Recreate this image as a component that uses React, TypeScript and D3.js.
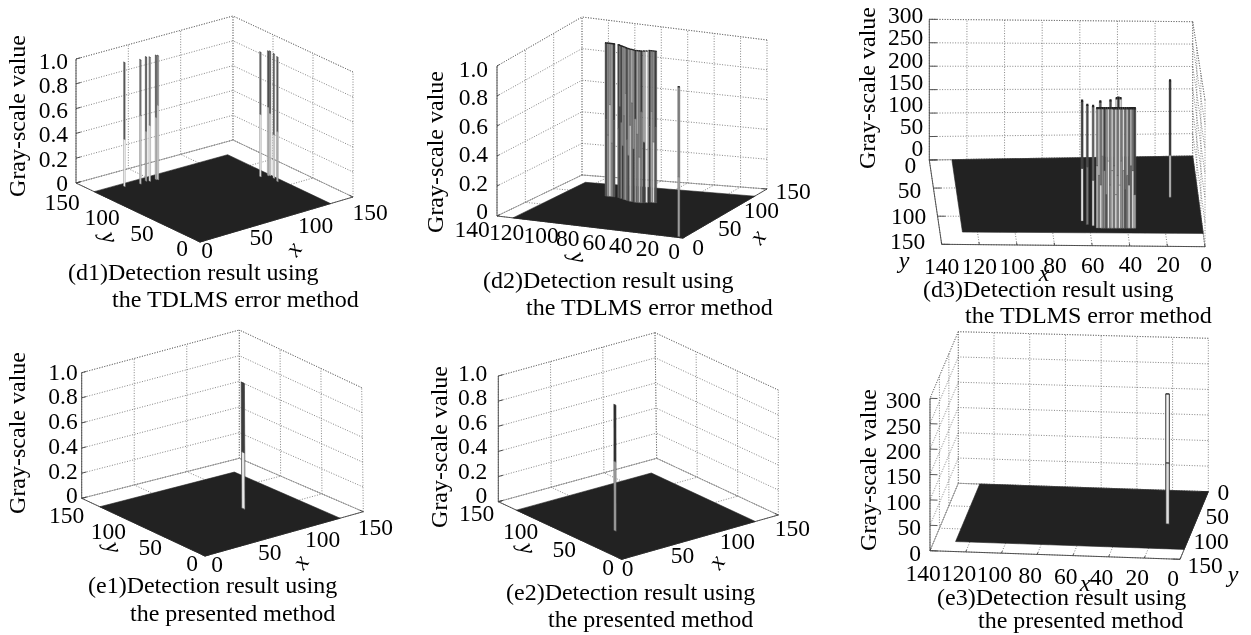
import React from 'react';
import * as d3 from 'd3';

// axis ticks
const ticks150 = [0, 50, 100, 150];
const ticks140 = [0, 20, 40, 60, 80, 100, 120, 140];
const ticksUnit = [0, 0.2, 0.4, 0.6, 0.8, 1];
const ticksGray = [0, 50, 100, 150, 200, 250, 300];
const unitLabels = ['0', '0.2', '0.4', '0.6', '0.8', '1.0'];

// the floor of each surface: the image is 128 x 128
const surfaceSize = 128;

// (d1) spikes
const d1X = [25, 38, 45, 47, 53, 54, 120, 126, 127, 126, 124];
const d1Y = [123, 120, 122, 120, 120, 119, 77, 75, 74, 68, 61];
const d1Z = [1, 1, 1, 1, 1, 1, 1, 1, 1, 1, 1];
const d1Split = [0.38, 0.55, 0.4, 0.45, 0.5, 0.6, 0.5, 0.55, 0.5, 0.35, 0.4];
const d1Upper = [0.25, 0.35, 0.2, 0.4, 0.2, 0.45, 0.3, 0.15, 0.2, 0.3, 0.25];
const d1Lower = [0.95, 0.75, 0.6, 0.9, 0.7, 0.8, 0.9, 0.7, 0.8, 0.85, 0.65];

// (d2) wall of columns plus the single spike near the origin
const d2X = [92, 92, 92, 92, 92, 91, 90, 89, 88, 87, 86, 85, 84, 83.5, 83, 82.5, 82, 82, 82, 82, 83, 84, 86, 86, 86, 86, 2];
const d2Y = [97, 95.5, 94, 92.5, 91, 87, 85.5, 84, 82.5, 81, 79.5, 78, 76.5, 75, 73.5, 72, 70.5, 69, 67.5, 66, 64.5, 63, 61.5, 60, 58.5, 57, 4];
const d2Z = [1, 1, 1, 1, 1, 1, 1, 1, 1, 1, 1, 1, 1, 1, 1, 1, 1, 1, 1, 1, 1, 1, 1, 1, 1, 1, 1];
const d2Split = [0.5, 0.4, 0.6, 0.35, 0.5, 0.45, 0.6, 0.5, 0.35, 0.55, 0.7, 0.4, 0.3, 0.5, 0.65, 0.35, 0.55, 0.45, 0.3, 0.6, 0.4, 0.35, 0.5, 0.6, 0.4, 0.5, 0.4];
const d2Upper = [0.2, 0.5, 0.55, 0.6, 0.15, 0.15, 0.45, 0.15, 0.5, 0.6, 0.45, 0.15, 0.55, 0.45, 0.7, 0.5, 0.15, 0.6, 0.45, 0.15, 0.65, 0.95, 0.12, 0.45, 0.5, 0.15, 0.45];
const d2Lower = [0.25, 0.55, 0.85, 0.5, 0.25, 0.25, 0.15, 0.5, 0.12, 0.45, 0.6, 0.35, 0.2, 0.8, 0.45, 0.15, 0.55, 0.4, 0.7, 0.4, 0.15, 0.9, 0.15, 0.6, 0.85, 0.25, 0.6];

// (d3) columns behind the band, the band itself, then the lone spike
const d3X = [63.5, 61, 58, 54, 48.5, 45, 44, 43, 56, 55, 54, 53, 52, 51, 50, 49, 48, 47, 46, 45, 44, 43, 42, 41, 40, 39, 38, 37, 36, 15];
const d3Y = [108, 114, 116, 112, 110, 106, 105, 106, 120, 120, 120, 120, 120, 120, 120, 120, 120, 120, 120, 120, 120, 120, 120, 120, 120, 120, 120, 120, 120, 68];
const d3Z = [252, 250, 250, 255, 255, 255, 255, 255, 250, 250, 250, 250, 250, 250, 250, 250, 250, 250, 250, 250, 250, 250, 250, 250, 250, 250, 250, 250, 250, 250];
const d3Split = [110, 120, 95, 150, 150, 150, 150, 150, 130, 110, 90, 150, 120, 70, 140, 90, 120, 130, 70, 110, 90, 140, 120, 80, 110, 90, 130, 120, 70, 90];
const d3Upper = [0.15, 0.2, 0.3, 0.3, 0.2, 0.8, 0.1, 0.8, 0.45, 0.75, 0.4, 0.7, 0.15, 0.5, 0.8, 0.45, 0.85, 0.4, 0.85, 0.4, 0.85, 0.4, 0.85, 0.35, 0.75, 0.3, 0.7, 0.4, 0.15, 0.12];
const d3Lower = [0.95, 0.4, 0.85, 0.25, 0.2, 0.6, 0.2, 0.6, 0.75, 0.45, 0.9, 0.5, 0.5, 0.25, 0.9, 0.5, 0.85, 0.45, 0.9, 0.45, 0.9, 0.5, 0.6, 0.25, 0.45, 0.9, 0.35, 0.9, 0.6, 0.7];

// (e1), (e2), (e3) one target each
const e1X = [84];
const e1Y = [61];
const e1Z = [1];
const e1Split = [0.45];
const e1Upper = [0.15];
const e1Lower = [0.9];

const e2X = [32.5];
const e2Y = [49.5];
const e2Z = [1];
const e2Split = [0.55];
const e2Upper = [0.05];
const e2Lower = [0.6];

const e3X = [15];
const e3Y = [74];
const e3Z = [255];
const e3Split = [120];
const e3Upper = [0.95];
const e3Lower = [0.85];

const SERIF = '"Liberation Serif", serif';
const gray = d3.scaleLinear<string>().domain([0, 1]).range(['#1c1c1c', '#ffffff']);
const polygon = d3.line().curve(d3.curveLinearClosed);

const panels = [
  {
    id: 'd1',
    xTicks: ticks150, yTicks: ticks150, zTicks: ticksUnit, zLabels: unitLabels,
    // corners, floor then top: [x side][y side]
    f: [[[200, 242], [76, 183]], [[353, 197], [233, 140]]],
    t: [[[200, 118], [76, 59]], [[353, 72], [233, 16]]],
    xWall: 150, yWall: 150, xAxisAt: 0, yAxisAt: 0, zAxisAt: [0, 150],
    xLab: [[7, 8], [17, 15]], yLab: [[-18, 6], [-14, 19]], zLab: [[-8, 0], [-8, 2]],
    spread: 'y', half: 1.05, capWidth: 0.5, edge: '#777', edgeWidth: 0.4,
    X: d1X, Y: d1Y, Z: d1Z, split: d1Split, upper: d1Upper, lower: d1Lower,
    xName: [295, 250, -55], yName: [108, 238, 70], gray: [18, 116],
    caption: ['(d1)Detection result using', 'the TDLMS error method'],
    cap1: [68, 280], cap2: [112, 307],
  },
  {
    id: 'd2',
    xTicks: ticks150, yTicks: ticks140, zTicks: ticksUnit, zLabels: unitLabels,
    f: [[[683, 238], [497, 216]], [[767, 189], [582, 175]]],
    t: [[[683, 88], [497, 66]], [[767, 40], [582, 17]]],
    xWall: 150, yWall: 140, xAxisAt: 0, yAxisAt: 0, zAxisAt: [0, 140],
    xLab: [[15, 9], [26, 2]], yLab: [[-9, 13], [-9, 13]], zLab: [[-9, -5], [-9, 3]],
    // the 140 and 120 labels are pushed left in the original
    yNudge: [0, 0, 0, 0, 0, 0, -8, -16],
    spread: 'y', half: 0.8, capWidth: 1.3, edge: '#555', edgeWidth: 0.4,
    X: d2X, Y: d2Y, Z: d2Z, split: d2Split, upper: d2Upper, lower: d2Lower,
    xName: [759, 238, -55], yName: [577, 258, 70], gray: [436, 152],
    caption: ['(d2)Detection result using', 'the TDLMS error method'],
    cap1: [483, 288], cap2: [526, 315],
  },
  {
    id: 'd3',
    xTicks: ticks140, yTicks: ticks150, zTicks: ticksGray, zLabels: ticksGray.map(String),
    f: [[[1192.7, 156], [1205, 246.7]], [[929.3, 160], [941.7, 244.3]]],
    t: [[[1192.7, 21.7], [1205, 100]], [[929.3, 19.3], [941.7, 100]]],
    xWall: 0, yWall: 0, xAxisAt: 150, yAxisAt: 140, zAxisAt: [140, 0],
    xLab: [[1, 17], [0, 22]], yLab: [[-19, 5], [-34, -3]], zLab: [[-6, -12], [-6, -4]],
    spread: 'x', half: 0.55, capWidth: 2.4, edge: '#555', edgeWidth: 0.4,
    X: d3X, Y: d3Y, Z: d3Z, split: d3Split, upper: d3Upper, lower: d3Lower,
    xName: [1044, 275, 0], yName: [904, 262, 0], gray: [868, 88],
    caption: ['(d3)Detection result using', 'the TDLMS error method'],
    cap1: [923, 297], cap2: [965, 323],
  },
  {
    id: 'e1',
    xTicks: ticks150, yTicks: ticks150, zTicks: ticksUnit, zLabels: unitLabels,
    f: [[[205, 556], [81.7, 498.3]], [[363.3, 511.7], [239.3, 458.3]]],
    t: [[[205, 430], [81.7, 372.7]], [[361.7, 387.7], [239.3, 330]]],
    xWall: 150, yWall: 150, xAxisAt: 0, yAxisAt: 0, zAxisAt: [0, 150],
    xLab: [[12, 8], [12, 15]], yLab: [[-13, 7], [-15, 17]], zLab: [[-4, -3], [-4, -1]],
    spread: 'y', half: 2, capWidth: 0.7, edge: '#444', edgeWidth: 0.7,
    X: e1X, Y: e1Y, Z: e1Z, split: e1Split, upper: e1Upper, lower: e1Lower,
    xName: [302, 563, -55], yName: [112, 548, 70], gray: [18, 433],
    caption: ['(e1)Detection result using', 'the presented method'],
    cap1: [88, 593], cap2: [130, 621],
  },
  {
    id: 'e2',
    xTicks: ticks150, yTicks: ticks150, zTicks: ticksUnit, zLabels: unitLabels,
    f: [[[621.7, 559.3], [498.3, 501.7]], [[778.3, 515], [656.7, 458.3]]],
    t: [[[621.7, 433], [498.3, 376]], [[778.3, 390], [655, 332.7]]],
    xWall: 150, yWall: 150, xAxisAt: 0, yAxisAt: 0, zAxisAt: [0, 150],
    xLab: [[6, 9], [14, 13]], yLab: [[-13.5, 7.4], [-21.6, 11.6]], zLab: [[-11, -6.7], [-11, -3]],
    spread: 'y', half: 1.4, capWidth: 0.6, edge: '#555', edgeWidth: 0.5,
    X: e2X, Y: e2Y, Z: e2Z, split: e2Split, upper: e2Upper, lower: e2Lower,
    xName: [718, 563, -55], yName: [526, 549, 70], gray: [440, 447],
    caption: ['(e2)Detection result using', 'the presented method'],
    cap1: [506, 600], cap2: [548, 627],
  },
  {
    id: 'e3',
    xTicks: ticks140, yTicks: ticks150, zTicks: ticksGray, zLabels: ticksGray.map(String),
    f: [[[1208.3, 491.7], [1180, 559.3]], [[958.3, 483.3], [930, 550.7]]],
    t: [[[1208.3, 338.3], [1180, 406]], [[958.3, 331.7], [930, 398.3]]],
    xWall: 140, yWall: 0, xAxisAt: 150, yAxisAt: 0, zAxisAt: [140, 150],
    xLab: [[-7, 19], [-7, 22]], yLab: [[15, 0], [25, 6]], zLab: [[-9, 2], [-9, 2]],
    spread: 'x', half: 1, capWidth: 0.9, edge: '#222', edgeWidth: 0.9,
    X: e3X, Y: e3Y, Z: e3Z, split: e3Split, upper: e3Upper, lower: e3Lower,
    xName: [1085, 585, 0], yName: [1233, 576, 0], gray: [869, 470],
    caption: ['(e3)Detection result using', 'the presented method'],
    cap1: [937, 605], cap2: [978, 628],
  },
];

type Panel = (typeof panels)[number];

function Surface({ p }: { p: Panel }) {
  const xMax = d3.max(p.xTicks) as number;
  const yMax = d3.max(p.yTicks) as number;
  const zMax = d3.max(p.zTicks) as number;
  const u = d3.scaleLinear().domain([0, xMax]).range([0, 1]);
  const v = d3.scaleLinear().domain([0, yMax]).range([0, 1]);
  const w = d3.scaleLinear().domain([0, zMax]).range([0, 1]);

  // trilinear between the 8 corners of the axes box, this also keeps the slight perspective of d3/e3
  const project = (x: number, y: number, z: number): [number, number] => {
    const at = (i: number) => {
      const plane = (c: number[][][]) => {
        const near = d3.interpolateNumber(c[0][0][i], c[1][0][i])(u(x));
        const far = d3.interpolateNumber(c[0][1][i], c[1][1][i])(u(x));
        return d3.interpolateNumber(near, far)(v(y));
      };
      return d3.interpolateNumber(plane(p.f), plane(p.t))(w(z));
    };
    return [at(0), at(1)];
  };

  const gridLines: [number, number, number][][] = [];
  p.xTicks.forEach(t => {
    gridLines.push([[t, 0, 0], [t, yMax, 0]]);
    gridLines.push([[t, p.yWall, 0], [t, p.yWall, zMax]]);
  });
  p.yTicks.forEach(t => {
    gridLines.push([[0, t, 0], [xMax, t, 0]]);
    gridLines.push([[p.xWall, t, 0], [p.xWall, t, zMax]]);
  });
  p.zTicks.forEach(t => {
    gridLines.push([[0, p.yWall, t], [xMax, p.yWall, t]]);
    gridLines.push([[p.xWall, 0, t], [p.xWall, yMax, t]]);
  });
  // the remaining edges of the two walls
  gridLines.push([[0, p.yWall, zMax], [xMax, p.yWall, zMax]]);
  gridLines.push([[p.xWall, 0, zMax], [p.xWall, yMax, zMax]]);

  const xTickIn = p.xAxisAt === 0 ? 1 : -1;
  const yTickIn = p.yAxisAt === 0 ? 1 : -1;
  const zTickIn = p.zAxisAt[0] === 0 ? 1 : -1;
  const tickLen = 0.03;

  const axisLines: [number, number, number][][] = [
    [[0, p.xAxisAt, 0], [xMax, p.xAxisAt, 0]],
    [[p.yAxisAt, 0, 0], [p.yAxisAt, yMax, 0]],
    [[p.zAxisAt[0], p.zAxisAt[1], 0], [p.zAxisAt[0], p.zAxisAt[1], zMax]],
    ...p.xTicks.map(t => [[t, p.xAxisAt, 0], [t, p.xAxisAt + xTickIn * yMax * tickLen, 0]] as [number, number, number][]),
    ...p.yTicks.map(t => [[p.yAxisAt, t, 0], [p.yAxisAt + yTickIn * xMax * tickLen, t, 0]] as [number, number, number][]),
    ...p.zTicks.map(t => [[p.zAxisAt[0], p.zAxisAt[1], t], [p.zAxisAt[0] + zTickIn * xMax * tickLen, p.zAxisAt[1], t]] as [number, number, number][]),
  ];

  const backEdges: [number, number, number][][] = [
    [[0, p.yWall, 0], [xMax, p.yWall, 0]],
    [[p.xWall, 0, 0], [p.xWall, yMax, 0]],
  ];

  const floor = polygon([
    project(0, 0, 0),
    project(surfaceSize, 0, 0),
    project(surfaceSize, surfaceSize, 0),
    project(0, surfaceSize, 0),
  ]) as string;

  const ends = (i: number) =>
    p.spread === 'y'
      ? [[p.X[i], p.Y[i] - p.half], [p.X[i], p.Y[i] + p.half]]
      : [[p.X[i] - p.half, p.Y[i]], [p.X[i] + p.half, p.Y[i]]];
  const face = (i: number, z0: number, z1: number) => {
    const [a, b] = ends(i);
    return polygon([project(a[0], a[1], z0), project(b[0], b[1], z0), project(b[0], b[1], z1), project(a[0], a[1], z1)]) as string;
  };
  const capLine = (i: number) => {
    const [a, b] = ends(i);
    return [project(a[0], a[1], p.Z[i]), project(b[0], b[1], p.Z[i])];
  };

  const segment = (l: [number, number, number][]) => {
    const [a, b] = [project(...l[0]), project(...l[1])];
    return { x1: a[0], y1: a[1], x2: b[0], y2: b[1] };
  };

  const xOff = d3.scaleLinear<number[]>().domain([0, xMax]).range(p.xLab as any);
  const yOff = d3.scaleLinear<number[]>().domain([0, yMax]).range(p.yLab as any);
  const zOff = d3.scaleLinear<number[]>().domain([0, zMax]).range(p.zLab as any);
  const yNudge = (p as any).yNudge as number[] | undefined;

  return (
    <g id={p.id} fontFamily={SERIF} fill="#000">
      {gridLines.map((l, i) => (
        <line key={i} {...segment(l)} stroke="#666" strokeWidth={0.8} strokeDasharray="1 1.6" />
      ))}
      {backEdges.map((l, i) => (
        <line key={i} {...segment(l)} stroke="#999" strokeWidth={0.8} />
      ))}
      {axisLines.map((l, i) => (
        <line key={i} {...segment(l)} stroke="#444" strokeWidth={0.9} />
      ))}
      <path d={floor} fill="#232323" stroke="#232323" strokeWidth={0.6} />
      {p.X.map((_, i) => (
        <g key={i}>
          <path d={face(i, 0, p.split[i])} fill={gray(p.lower[i])} stroke={p.edge} strokeWidth={p.edgeWidth} />
          <path d={face(i, p.split[i], p.Z[i])} fill={gray(p.upper[i])} stroke={p.edge} strokeWidth={p.edgeWidth} />
          <line
            x1={capLine(i)[0][0]} y1={capLine(i)[0][1]}
            x2={capLine(i)[1][0]} y2={capLine(i)[1][1]}
            stroke="#222" strokeWidth={p.capWidth}
          />
        </g>
      ))}
      <g fontSize={23.5}>
        {p.xTicks.map(t => {
          const [x, y] = project(t, p.xAxisAt, 0);
          const off = xOff(t);
          return <text key={t} x={x + off[0]} y={y + off[1]} dy="0.34em" textAnchor="middle">{t}</text>;
        })}
        {p.yTicks.map((t, i) => {
          const [x, y] = project(p.yAxisAt, t, 0);
          const off = yOff(t);
          const dx = yNudge ? yNudge[i] : 0;
          return <text key={t} x={x + off[0] + dx} y={y + off[1]} dy="0.34em" textAnchor="middle">{t}</text>;
        })}
        {p.zTicks.map((t, i) => {
          const [x, y] = project(p.zAxisAt[0], p.zAxisAt[1], t);
          const off = zOff(t);
          return <text key={t} x={x + off[0]} y={y + off[1]} dy="0.34em" textAnchor="end">{p.zLabels[i]}</text>;
        })}
      </g>
      <text
        transform={`translate(${p.gray[0]},${p.gray[1]}) rotate(-90)`}
        dy="0.3em" textAnchor="middle" fontSize={24}
      >
        Gray-scale value
      </text>
      <text
        transform={`translate(${p.xName[0]},${p.xName[1]}) rotate(${p.xName[2]})`}
        dy="0.25em" textAnchor="middle" fontSize={24} fontStyle="italic"
      >
        x
      </text>
      <text
        transform={`translate(${p.yName[0]},${p.yName[1]}) rotate(${p.yName[2]})`}
        dy="0.25em" textAnchor="middle" fontSize={24} fontStyle="italic"
      >
        y
      </text>
      <text x={p.cap1[0]} y={p.cap1[1]} fontSize={24}>{p.caption[0]}</text>
      <text x={p.cap2[0]} y={p.cap2[1]} fontSize={24}>{p.caption[1]}</text>
    </g>
  );
}

const App = () => (
  <svg
    width={1251}
    height={635}
    viewBox="0 0 1251 635"
    style={{ position: 'absolute', left: 0, top: 0, background: '#fff' }}
  >
    <defs>
      <filter id="scanBlur" x="0" y="0" width="100%" height="100%">
        <feGaussianBlur stdDeviation="0.4" />
      </filter>
    </defs>
    <g filter="url(#scanBlur)">
      {panels.map(p => (
        <Surface key={p.id} p={p} />
      ))}
    </g>
  </svg>
);

export default App;
